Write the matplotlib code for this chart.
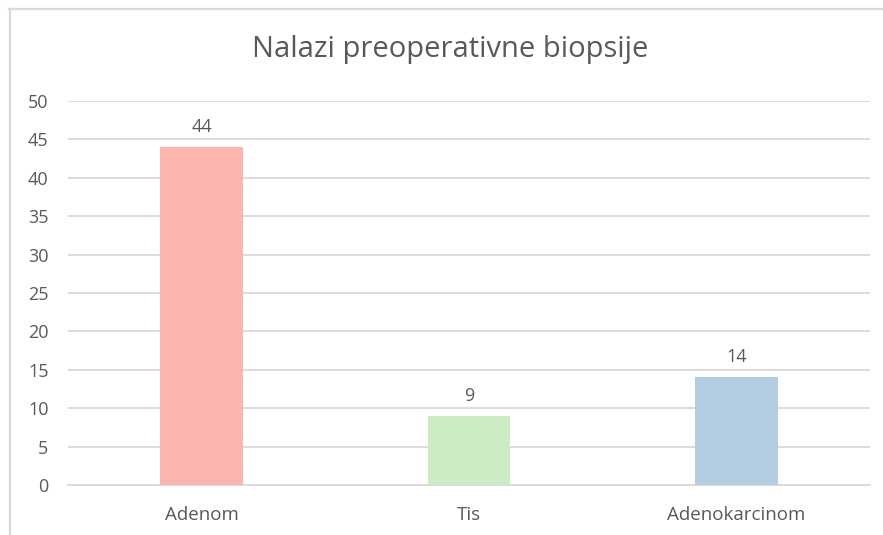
import matplotlib
matplotlib.use("Agg")
import matplotlib.pyplot as plt
from matplotlib.lines import Line2D

categories = ["Adenom", "Tis", "Adenokarcinom"]
values = [44, 9, 14]
colors = ["#FBB4AE", "#CCEBC5", "#B3CDE3"]
yticks = [0, 5, 10, 15, 20, 25, 30, 35, 40, 45, 50]
title = "Nalazi preoperativne biopsije"

plt.rcParams['font.family'] = ['Open Sans', 'DejaVu Sans']
text_color = "#595959"
grid_color = "#D9D9D9"

W, H = 883, 535
fig = plt.figure(figsize=(W/100, H/100), dpi=100)
ax = fig.add_axes([68/W, 1-485/H, (870-68)/W, (485-101)/H])

x = range(len(categories))
ax.bar(x, values, width=0.31, color=colors, zorder=3)
for xi, v in zip(x, values):
    ax.annotate(str(v), (xi, v), xytext=(0, 8), textcoords="offset points",
                ha="center", va="bottom", fontsize=13, color=text_color)

ax.set_xlim(-0.5, len(categories)-0.5)
ax.set_ylim(0, 50)
ax.set_yticks(yticks)
ax.set_xticks(list(x))
ax.set_xticklabels(categories)
ax.yaxis.grid(True, color=grid_color, linewidth=1.3, zorder=0)
ax.tick_params(axis='both', length=0, labelsize=13, colors=text_color)
ax.tick_params(axis='x', labelsize=13.5, pad=15)
ax.tick_params(axis='y', pad=14)
for s in ["top", "right", "left"]:
    ax.spines[s].set_visible(False)
ax.spines["bottom"].set_color(grid_color)
ax.spines["bottom"].set_linewidth(1.3)

fig.text(450/W, 1-50/H, title, ha="center", va="center", fontsize=21, color=text_color)

# chart border (partially cut off)
fig.add_artist(Line2D([9/W, 1], [1-8.5/H, 1-8.5/H], color=grid_color, linewidth=1.6))
fig.add_artist(Line2D([9.5/W, 9.5/W], [0, 1-8.5/H], color=grid_color, linewidth=1.6))

fig.savefig("out.png", dpi=100)
